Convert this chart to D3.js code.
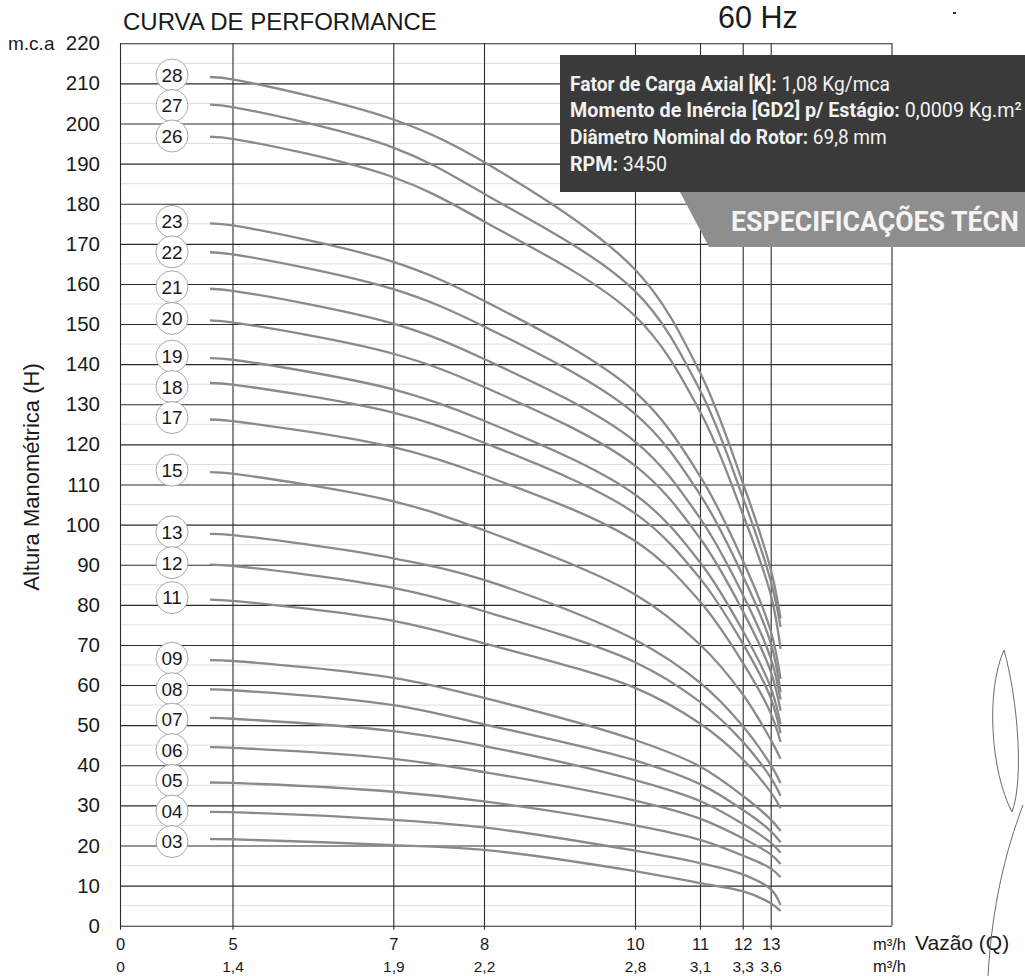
<!DOCTYPE html>
<html>
<head>
<meta charset="utf-8">
<script src="https://cdn.jsdelivr.net/npm/d3@7"></script>
<style>
body { margin: 0; background: #fff; }
svg text { font-family: "Liberation Sans", Arial, sans-serif; fill: #1a1a1a; }
svg text.cond { font-family: Roboto, "Liberation Sans", sans-serif; }
</style>
</head>
<body>
<svg id="chart"></svg>
<script>
// flow ticks (m3/h) and the second row of labels under them
var flowTicks = [0, 5, 7, 8, 10, 11, 12, 13];
var flowLabels2 = ["0", "1,4", "1,9", "2,2", "2,8", "3,1", "3,3", "3,6"];
var headTicks = [0, 10, 20, 30, 40, 50, 60, 70, 80, 90, 100, 110, 120, 130, 140, 150, 160, 170, 180, 190, 200, 210, 220];

// flow points where every curve was read
var curveFlow = [4, 5, 7, 8, 10, 11, 12, 13, 13.35];
var stages = ["03", "04", "05", "06", "07", "08", "09", "11", "12", "13", "15",
              "17", "18", "19", "20", "21", "22", "23", "26", "27", "28"];
var headValues = [
    [21.6, 21.55, 20.1, 18.9, 13.6, 10.6, 8.6, 5.6, 3.7],
    [28.4, 28.3, 26.4, 24.5, 18.7, 15.6, 12.8, 9.1, 5.2],
    [35.7, 35.6, 33.4, 31.0, 25.0, 21.4, 17.5, 14.3, 12.1],
    [44.5, 44.35, 41.6, 38.3, 31.2, 26.7, 21.8, 17.8, 15.4],
    [51.8, 51.6, 48.5, 44.8, 36.3, 31.1, 25.4, 20.7, 18.2],
    [58.9, 58.7, 55.0, 50.2, 41.2, 35.3, 28.9, 23.6, 20.8],
    [66.2, 66.0, 61.8, 56.8, 46.3, 39.7, 32.4, 26.5, 23.6],
    [81.3, 81.0, 76.0, 70.4, 59.3, 50.4, 41.5, 33.3, 29.3],
    [90.0, 89.7, 84.2, 78.4, 65.7, 55.8, 45.9, 36.9, 32.4],
    [97.7, 97.4, 91.6, 86.2, 71.3, 60.6, 49.8, 40.1, 35.6],
    [113.1, 112.7, 105.8, 98.6, 82.6, 70.1, 57.7, 46.4, 41.6],
    [126.2, 125.8, 119.3, 112.3, 95.9, 80.8, 65.6, 53.0, 45.8],
    [135.3, 134.9, 127.9, 120.4, 102.8, 86.6, 70.4, 56.8, 48.0],
    [141.5, 141.1, 133.7, 125.9, 107.5, 90.6, 73.6, 59.4, 50.2],
    [150.9, 150.4, 142.6, 134.3, 114.7, 96.6, 78.5, 63.4, 53.6],
    [158.8, 158.3, 150.1, 141.3, 120.7, 101.6, 82.6, 66.7, 56.4],
    [167.9, 167.4, 158.7, 149.4, 127.6, 107.5, 87.3, 70.5, 58.2],
    [175.1, 174.6, 165.5, 155.8, 133.1, 112.1, 91.1, 73.5, 61.5],
    [196.7, 196.2, 186.6, 175.6, 152.0, 128.2, 102.7, 82.6, 69.0],
    [204.7, 204.1, 194.0, 182.5, 158.2, 133.5, 106.9, 86.0, 74.5],
    [211.6, 211.0, 201.0, 190.4, 163.6, 137.9, 110.5, 88.9, 76.6]
];

var specLabels = ["Fator de Carga Axial [K]:", "Momento de Inércia [GD2] p/ Estágio:", "Diâmetro Nominal do Rotor:", "RPM:"];
var specValues = [" 1,08 Kg/mca", " 0,0009 Kg.m²", " 69,8 mm", " 3450"];

var width = 1025, height = 976;
var plot = { left: 120, top: 43.3, right: 892, bottom: 925.7 };
var specWidths = [320, 452, 317, 97];   // printed widths of the condensed lines

var svg = d3.select("#chart")
    .attr("width", width)
    .attr("height", height);

// the printed axis is not uniform, so a piecewise scale follows the drawn ticks
var x = d3.scaleLinear()
    .domain([0, 5, 7, 8, 10, 11, 12, 13, 17.3])
    .range([0, 112.5, 273.3, 364, 515, 580, 622.7, 650.7, 772].map(function(v) { return plot.left + v; }));

var y = d3.scaleLinear()
    .domain([0, 220])
    .range([plot.bottom, plot.top]);

// squeeze a text to the width it has in the print
function fitWidth(node, target) {
    var w = node.getComputedTextLength();
    var x0 = +node.getAttribute("x"), y0 = +node.getAttribute("y");
    d3.select(node).attr("x", 0).attr("y", 0)
        .attr("transform", "translate(" + x0 + "," + y0 + ") scale(" + (target / w) + ",1)");
}

// light half-step lines
svg.append("g").selectAll("line")
    .data(d3.range(5, 220, 10))
    .enter().append("line")
    .attr("x1", plot.left).attr("x2", plot.right)
    .attr("y1", function(d) { return y(d); })
    .attr("y2", function(d) { return y(d); })
    .attr("stroke", "#dedede")
    .attr("stroke-width", 1);

// y axis with long ticks for the grid
var yAxis = d3.axisLeft(y).tickValues(headTicks).tickSize(12).tickPadding(6);
var yG = svg.append("g")
    .attr("transform", "translate(" + plot.left + ",0)")
    .call(yAxis);
yG.select(".domain").remove();
yG.selectAll(".tick line").attr("x2", plot.right - plot.left).attr("stroke", "#2b2b2b").attr("stroke-width", 1.1);
yG.selectAll(".tick text").attr("font-size", 20.5).attr("x", -20).attr("fill", "#1a1a1a");

// x axis, two rows of labels
var xAxis = d3.axisBottom(x).tickValues(flowTicks).tickSize(4).tickPadding(9);
var xG = svg.append("g")
    .attr("transform", "translate(0," + plot.bottom + ")")
    .call(xAxis);
xG.select(".domain").remove();
xG.selectAll(".tick line")
    .attr("y1", plot.top - plot.bottom)
    .attr("stroke", "#2b2b2b").attr("stroke-width", 1.1);
xG.selectAll(".tick text").attr("font-size", 16.5).attr("fill", "#1a1a1a");

var xAxis2 = d3.axisBottom(x).tickValues(flowTicks).tickSize(0).tickPadding(0)
    .tickFormat(function(d, i) { return flowLabels2[i]; });
var xG2 = svg.append("g")
    .attr("transform", "translate(0," + (plot.bottom + 35.5) + ")")
    .call(xAxis2);
xG2.select(".domain").remove();
xG2.selectAll(".tick text").attr("font-size", 15.5).attr("fill", "#1a1a1a");

// right border
svg.append("line")
    .attr("x1", plot.right).attr("x2", plot.right)
    .attr("y1", plot.top).attr("y2", plot.bottom)
    .attr("stroke", "#2b2b2b").attr("stroke-width", 1.1);

// curves
var line = d3.line()
    .x(function(d) { return x(d[0]); })
    .y(function(d) { return y(d[1]); })
    .curve(d3.curveCatmullRom.alpha(0.5));

svg.append("g").selectAll("path")
    .data(headValues)
    .enter().append("path")
    .attr("d", function(vals) {
        return line(vals.map(function(v, i) { return [curveFlow[i], v]; }));
    })
    .attr("fill", "none")
    .attr("stroke", "#8a8a8a")
    .attr("stroke-width", 2.3);

// stage labels, spread so the circles don't overlap
var labelPos = headValues.map(function(vals, i) {
    return { name: stages[i], cy: y(vals[0]) - 2 };
}).sort(function(a, b) { return a.cy - b.cy; });
for (var i = 1; i < labelPos.length; i++) {
    if (labelPos[i].cy - labelPos[i - 1].cy < 30.5) labelPos[i].cy = labelPos[i - 1].cy + 30.5;
}
var labelX = x(curveFlow[0]) - 38;

var lab = svg.append("g").selectAll("g")
    .data(labelPos)
    .enter().append("g")
    .attr("transform", function(d) { return "translate(" + labelX + "," + d.cy + ")"; });
lab.append("circle")
    .attr("r", 16)
    .attr("fill", "#fff")
    .attr("stroke", "#a8a8a8")
    .attr("stroke-width", 1);
lab.append("text")
    .attr("text-anchor", "middle")
    .attr("dy", "0.36em")
    .attr("font-size", 19)
    .text(function(d) { return d.name; });

// spec box
svg.append("rect")
    .attr("x", 560).attr("y", 55)
    .attr("width", width - 560).attr("height", 137)
    .attr("fill", "#3a3a3a");

svg.append("path")
    .attr("d", "M680,192 L" + width + ",192 L" + width + ",247 L709,247 Z")
    .attr("fill", "#8e8e8e");

var banner = svg.append("text")
    .attr("class", "cond")
    .attr("x", 731).attr("y", 231)
    .attr("font-size", 28)
    .attr("font-weight", "bold")
    .style("fill", "#f4f4f4")
    .text("ESPECIFICAÇÕES TÉCN");
fitWidth(banner.node(), 288);

var spec = svg.append("g").selectAll("text")
    .data(specLabels)
    .enter().append("text")
    .attr("class", "cond")
    .attr("x", 570)
    .attr("y", function(d, i) { return 90.5 + i * 26.7; })
    .attr("font-size", 21)
    .style("fill", "#f2f2f2");
spec.append("tspan").attr("font-weight", "bold").text(function(d) { return d; });
spec.append("tspan").text(function(d, i) { return specValues[i]; });
spec.each(function(d, i) { fitWidth(this, specWidths[i]); });

// titles and unit labels
svg.append("text")
    .attr("x", 123).attr("y", 30)
    .attr("font-size", 24)
    .text("CURVA DE PERFORMANCE");

svg.append("text")
    .attr("x", 718).attr("y", 28)
    .attr("font-size", 30.5)
    .text("60 Hz");

svg.append("text")
    .attr("x", 8).attr("y", y(220))
    .attr("dy", "0.35em")
    .attr("font-size", 19)
    .text("m.c.a");

svg.append("text")
    .attr("transform", "translate(39,477) rotate(-90)")
    .attr("text-anchor", "middle")
    .attr("font-size", 22)
    .text("Altura Manométrica (H)");

svg.append("text")
    .attr("x", 873).attr("y", 950)
    .attr("font-size", 16.5)
    .text("m³/h");
svg.append("text")
    .attr("x", 873).attr("y", 972)
    .attr("font-size", 16.5)
    .text("m³/h");
svg.append("text")
    .attr("x", 915).attr("y", 950)
    .attr("font-size", 21)
    .text("Vazão (Q)");

// pen mark on the scan
svg.append("path")
    .attr("d", "M1023,805 C1006,850 992,905 988,976 M1004,650 C986,690 990,770 1012,812 C1024,780 1018,700 1004,650")
    .attr("fill", "none")
    .attr("stroke", "#6a6a6a")
    .attr("stroke-width", 1);
svg.append("rect")
    .attr("x", 953).attr("y", 12).attr("width", 3).attr("height", 2)
    .attr("fill", "#333");
</script>
</body>
</html>
